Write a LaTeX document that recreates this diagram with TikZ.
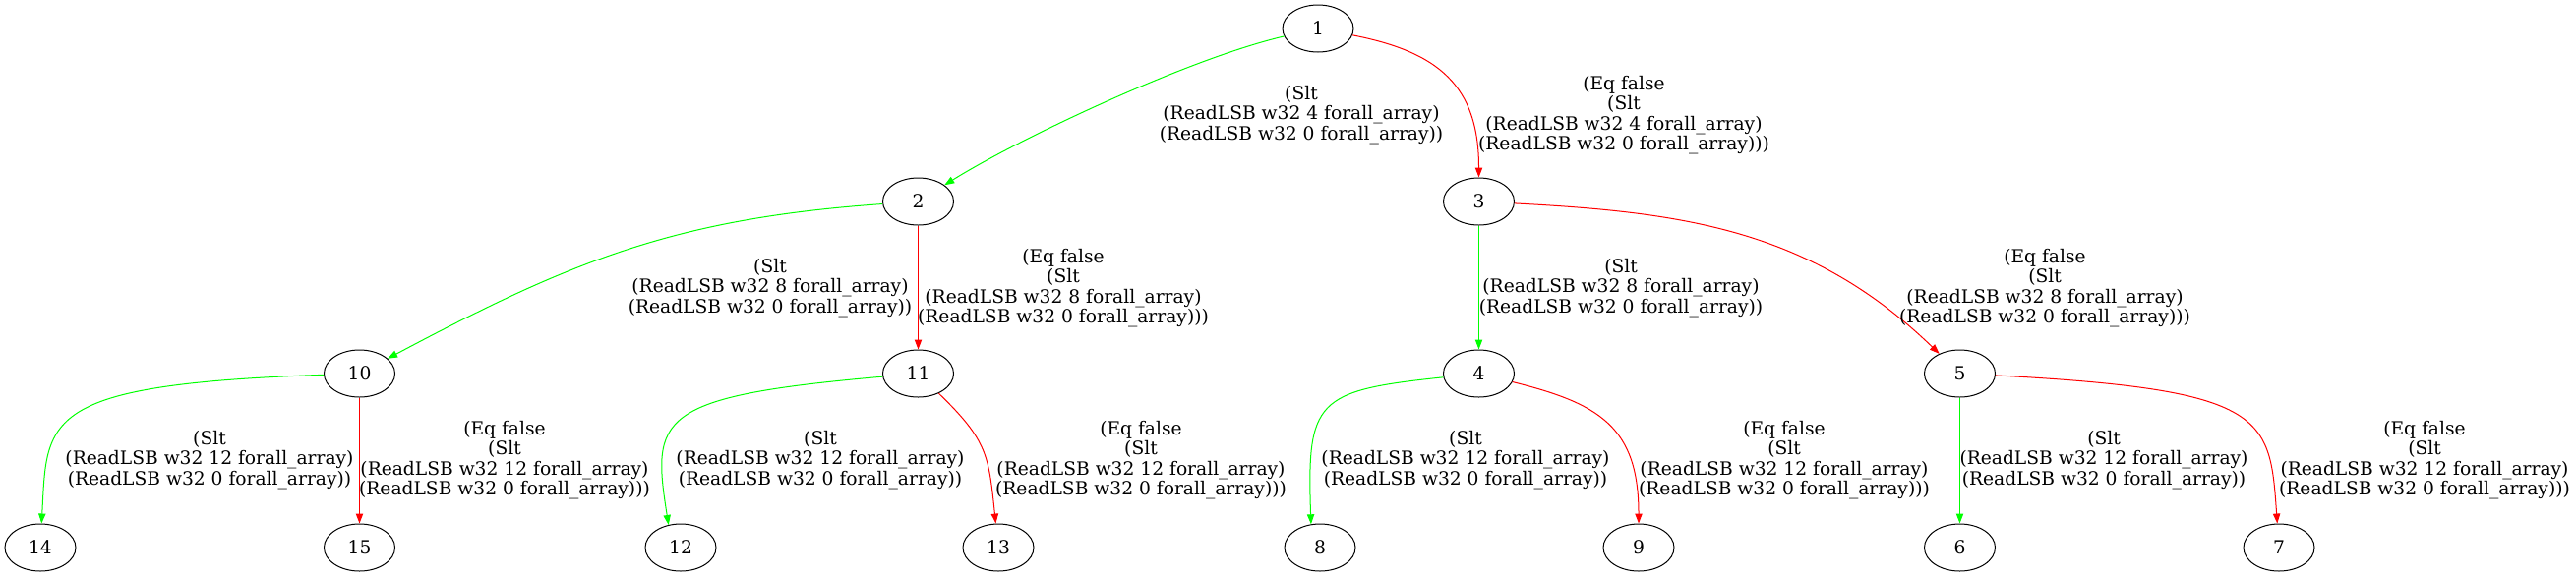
\documentclass[tikz,border=0pt]{standalone}
\usepackage{fontspec}
\setmainfont{DejaVu Serif}
\usetikzlibrary{shapes.geometric,arrows.meta}
\definecolor{gvgreen}{RGB}{0,255,0}
\definecolor{gvred}{RGB}{255,0,0}
\newcommand{\fa}{forall\_array}

\begin{document}
\begin{tikzpicture}[x=0.75pt, y=0.75pt,
	state/.style={draw, ellipse, minimum width=54pt, minimum height=36pt, inner sep=0pt, line width=0.75pt, font=\fontsize{14}{16}\selectfont},
	cond/.style={align=center, inner sep=0pt, font=\fontsize{14}{15.2}\selectfont},
	yes/.style={draw=gvgreen, line width=0.75pt, -{Triangle[length=7.5pt,width=5.5pt]}},
	no/.style={draw=gvred, line width=0.75pt, -{Triangle[length=7.5pt,width=5.5pt]}}]
	\useasboundingbox (0,0) rectangle (2619,-587);
	% states
	\node[state] (n1) at (1340,-29) {1};
	\node[state] (n2) at (933.5,-205) {2};
	\node[state] (n3) at (1503.5,-205) {3};
	\node[state] (n10) at (365.5,-380) {10};
	\node[state] (n11) at (933.5,-380) {11};
	\node[state] (n4) at (1503.5,-380) {4};
	\node[state] (n5) at (1992.5,-380) {5};
	\node[state] (n14) at (41,-557) {14};
	\node[state] (n15) at (365.5,-557) {15};
	\node[state] (n12) at (692,-557) {12};
	\node[state] (n13) at (1015,-557) {13};
	\node[state] (n8) at (1342,-557) {8};
	\node[state] (n9) at (1666,-557) {9};
	\node[state] (n6) at (1992.5,-557) {6};
	\node[state] (n7) at (2317,-557) {7};
	% branches
	\draw[yes] (n1) to[out=193, in=32, out distance=73pt, in distance=68pt] (n2);
	\draw[no] (n1) to[out=-11, in=90, out distance=67pt, in distance=70pt] (n3);
	\draw[yes] (n2) to[out=184, in=28, out distance=159pt, in distance=158pt] (n10);
	\draw[no] (n2) -- (n11);
	\draw[yes] (n3) -- (n4);
	\draw[no] (n3) to[out=-3, in=136, out distance=130pt, in distance=136pt] (n5);
	\draw[yes] (n10) to[out=182, in=87, out distance=217pt, in distance=80pt] (n14);
	\draw[no] (n10) -- (n15);
	\draw[yes] (n11) to[out=185, in=99, out distance=174pt, in distance=83pt] (n12.118);
	\draw[no] (n11) to[out=-44, in=96, out distance=52pt, in distance=52pt] (n13);
	\draw[yes] (n4) to[out=186, in=92, out distance=98pt, in distance=95pt] (n8.111);
	\draw[no] (n4) to[out=-14, in=90, out distance=68pt, in distance=74pt] (n9);
	\draw[yes] (n5) -- (n6);
	\draw[no] (n5) to[out=-3, in=94, out distance=208pt, in distance=82pt] (n7);
	% conditions
	\node[cond] (c1to2) at (1323,-117) {(Slt\\(ReadLSB w32 4 \fa)\\(ReadLSB w32 0 \fa))};
	\node[cond] (c1to3) at (1651,-117) {(Eq false\\(Slt\\(ReadLSB w32 4 \fa)\\(ReadLSB w32 0 \fa)))};
	\node[cond] (c2to10) at (783,-293) {(Slt\\(ReadLSB w32 8 \fa)\\(ReadLSB w32 0 \fa))};
	\node[cond] (c2to11) at (1081,-293) {(Eq false\\(Slt\\(ReadLSB w32 8 \fa)\\(ReadLSB w32 0 \fa)))};
	\node[cond] (c3to4) at (1648,-293) {(Slt\\(ReadLSB w32 8 \fa)\\(ReadLSB w32 0 \fa))};
	\node[cond] (c3to5) at (2079,-293) {(Eq false\\(Slt\\(ReadLSB w32 8 \fa)\\(ReadLSB w32 0 \fa)))};
	\node[cond] (c10to14) at (213,-468) {(Slt\\(ReadLSB w32 12 \fa)\\(ReadLSB w32 0 \fa))};
	\node[cond] (c10to15) at (513,-468) {(Eq false\\(Slt\\(ReadLSB w32 12 \fa)\\(ReadLSB w32 0 \fa)))};
	\node[cond] (c11to12) at (834,-468) {(Slt\\(ReadLSB w32 12 \fa)\\(ReadLSB w32 0 \fa))};
	\node[cond] (c11to13) at (1160,-468) {(Eq false\\(Slt\\(ReadLSB w32 12 \fa)\\(ReadLSB w32 0 \fa)))};
	\node[cond] (c4to8) at (1490,-468) {(Slt\\(ReadLSB w32 12 \fa)\\(ReadLSB w32 0 \fa))};
	\node[cond] (c4to9) at (1814,-468) {(Eq false\\(Slt\\(ReadLSB w32 12 \fa)\\(ReadLSB w32 0 \fa)))};
	\node[cond] (c5to6) at (2139,-468) {(Slt\\(ReadLSB w32 12 \fa)\\(ReadLSB w32 0 \fa))};
	\node[cond] (c5to7) at (2465,-468) {(Eq false\\(Slt\\(ReadLSB w32 12 \fa)\\(ReadLSB w32 0 \fa)))};
\end{tikzpicture}
\end{document}
